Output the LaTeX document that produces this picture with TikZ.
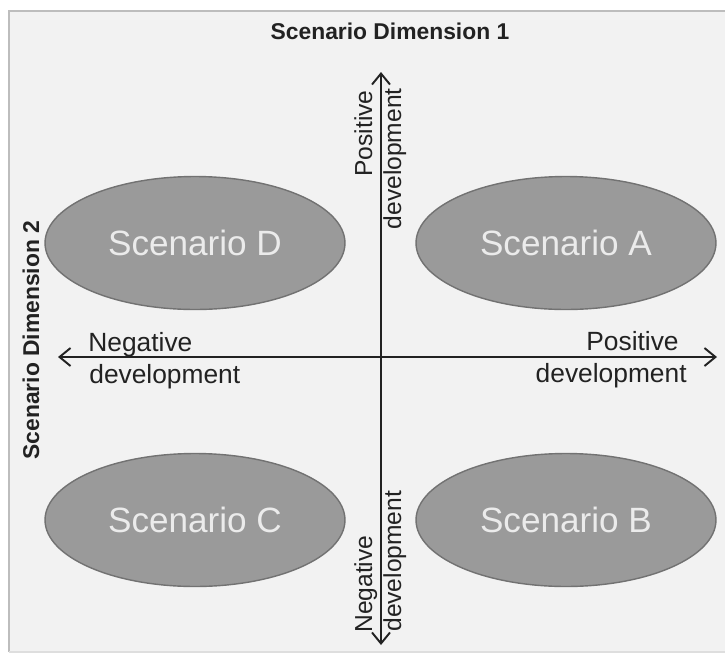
\documentclass[tikz,border=0pt]{standalone}
\usepackage{fontspec}
\setmainfont{Liberation Sans}
\usetikzlibrary{shapes.geometric,arrows.meta}

\definecolor{fond}{HTML}{F2F2F2}
\definecolor{cadre}{HTML}{BDBDBD}
\definecolor{bulle}{HTML}{9A9A9A}
\definecolor{bord}{HTML}{727272}
\definecolor{axe}{HTML}{222222}

\tikzset{
  scen/.style={ellipse, fill=bulle, draw=bord, line width=0.8pt,
    minimum width=6cm, minimum height=2.66cm, inner sep=0pt,
    text=white!92!black, font=\fontsize{20}{24}\selectfont},
  lab/.style={font=\fontsize{15}{17}\selectfont, text=axe, inner sep=0pt},
  vlab/.style={lab, rotate=90, font=\fontsize{14}{16}\selectfont},
  dim/.style={font=\fontsize{13}{15}\selectfont\bfseries, text=axe, inner sep=0pt},
  axis/.style={{Straight Barb[length=2.2mm,width=3.6mm]}-{Straight Barb[length=2.2mm,width=3.6mm]},
    line width=1.1pt, draw=axe}
}

\begin{document}
\begin{tikzpicture}[x=0.02cm, y=-0.02cm]

\useasboundingbox (0,0) rectangle (725,654);

% cadre
\fill[fond] (9,11) rectangle (725,652);
\draw[cadre, line width=1.5pt] (9,652) -- (9,11) -- (725,11);
\draw[cadre!50, line width=0.6pt] (9,652) -- (725,652);

% titres
\node[dim] (dimA) at (390,31) {Scenario Dimension 1};
\node[dim, rotate=90] (dimB) at (31,340) {Scenario Dimension 2};

% axes
\coordinate (left) at (58,357);
\coordinate (right) at (717,357);
\coordinate (top) at (381,72);
\coordinate (bottom) at (381,645);
\draw[axis] (left) -- (right);
\draw[axis] (bottom) -- (top);

% scenarios
\node[scen] (scD) at (195,243) {Scenario D};
\node[scen] (scA) at (566,243) {Scenario A};
\node[scen] (scC) at (195,520) {Scenario C};
\node[scen] (scB) at (566,520) {Scenario B};

% horizontal
\node[lab, anchor=base west] (negH) at (88,351) {Negative};
\node[lab, anchor=base west] (negHd) at (89,383) {development};
\node[lab, anchor=base east] (posH) at (679,350) {Positive};
\node[lab, anchor=base east] (posHd) at (687,382) {development};

% vertical
\node[vlab, anchor=base east] (posV) at (372,90) {Positive};
\node[vlab, anchor=base east] (posVd) at (401,88) {development};
\node[vlab, anchor=base west] (negV) at (372,633) {Negative};
\node[vlab, anchor=base west] (negVd) at (401,632) {development};

\end{tikzpicture}
\end{document}
